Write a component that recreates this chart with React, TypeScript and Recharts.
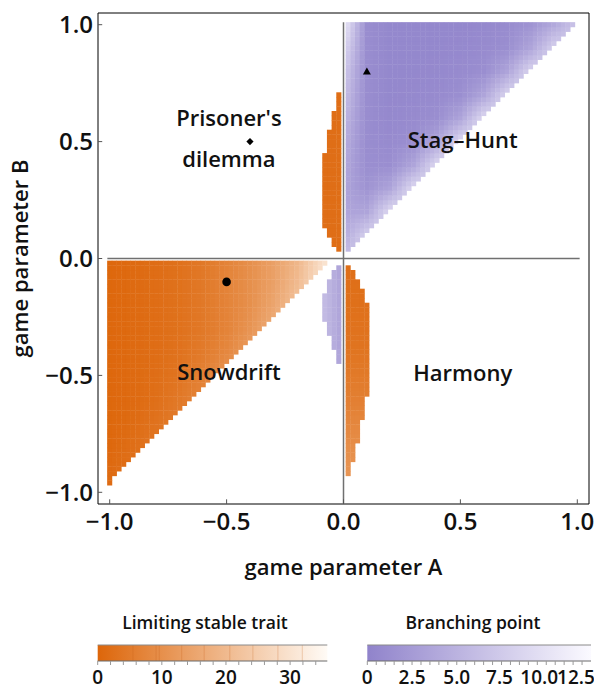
import { ScatterChart, Scatter, XAxis, YAxis, ReferenceLine, ReferenceArea, Label } from 'recharts'

const FONT = '"Open Sans", Lato, sans-serif'

// plot range, ticks, grid step of the cells
const RANGE: [number, number] = [-1.05, 1.05]
const axisTicks = [-1, -0.5, 0, 0.5, 1]
const STEP = 0.02

// Snowdrift block: left column (A) and both ends of its stepped edge [A, B]
const snowdriftLeft = -1.0
const snowdriftEdge = [[-1.0, -0.96], [-0.08, -0.02]]
// Stag-Hunt block
const stagLeft = 0.02
const stagEdge = [[0.02, 0.04], [0.98, 1.0]]

// thin strips near A = 0: column, lowest row, highest row
const pdStrip = [
  { a: -0.02, lo: 0.04, hi: 0.7 },
  { a: -0.04, lo: 0.06, hi: 0.62 },
  { a: -0.06, lo: 0.1, hi: 0.54 },
  { a: -0.08, lo: 0.14, hi: 0.44 },
]
const harmonyStrip = [
  { a: 0.02, lo: -0.92, hi: -0.04 },
  { a: 0.04, lo: -0.86, hi: -0.06 },
  { a: 0.06, lo: -0.78, hi: -0.1 },
  { a: 0.08, lo: -0.68, hi: -0.14 },
  { a: 0.1, lo: -0.58, hi: -0.2 },
]
const branchStrip = [
  { a: -0.02, lo: -0.44, hi: -0.04 },
  { a: -0.04, lo: -0.38, hi: -0.06 },
  { a: -0.06, lo: -0.32, hi: -0.1 },
  { a: -0.08, lo: -0.26, hi: -0.16 },
]

// limiting stable trait in the Snowdrift block, sampled every 0.1
const snowA = [-1, -0.9, -0.8, -0.7, -0.6, -0.5, -0.4, -0.3, -0.2, -0.1, 0]
const snowB = [0, -0.1, -0.2, -0.3, -0.4, -0.5, -0.6, -0.7, -0.8, -0.9, -1]
const snowTrait = [
  [0.5, 1, 1.8, 2.8, 4.5, 7, 10, 14, 19, 28, 36],
  [0.5, 1, 1.8, 2.8, 4.5, 7, 10, 14, 20, 29, 36],
  [0.5, 1, 1.8, 2.8, 4.5, 7, 10, 15, 22, 30, 36],
  [0.5, 1, 1.8, 2.8, 4.5, 7, 11, 17, 23, 30, 36],
  [0.5, 1, 1.8, 3, 5, 8, 13, 19, 23, 30, 36],
  [0.5, 1, 2, 3.5, 6.5, 11, 14, 19, 23, 30, 36],
  [0.5, 1, 2.2, 4.5, 7.5, 11, 14, 19, 23, 30, 36],
  [0.5, 1.3, 3, 5.5, 7.5, 11, 14, 19, 23, 30, 36],
  [0.5, 2, 4, 5.5, 7.5, 11, 14, 19, 23, 30, 36],
  [1, 2.5, 4, 5.5, 7.5, 11, 14, 19, 23, 30, 36],
  [1.5, 3, 4, 5.5, 7.5, 11, 14, 19, 23, 30, 36],
]

// branching point in the Stag-Hunt block, sampled every 0.1
const stagA = [0, 0.1, 0.2, 0.3, 0.4, 0.5, 0.6, 0.7, 0.8, 0.9, 1]
const stagB = [1, 0.9, 0.8, 0.7, 0.6, 0.5, 0.4, 0.3, 0.2, 0.1, 0]
const stagBranch = [
  [11, 1, 0.5, 0.5, 0.5, 0.5, 0.6, 0.9, 1.8, 4, 7],
  [9, 1, 0.5, 0.5, 0.5, 0.6, 0.8, 1.2, 3.5, 8, 8],
  [7.5, 1, 0.5, 0.5, 0.6, 0.8, 1.2, 3.5, 8.5, 8.5, 8.5],
  [6.5, 1, 0.5, 0.6, 0.8, 1.2, 3.5, 8.5, 8.5, 8.5, 8.5],
  [5.5, 1, 0.6, 0.8, 1.2, 3.5, 9, 9, 9, 9, 9],
  [4.5, 1, 0.8, 1.2, 3.5, 9, 9, 9, 9, 9, 9],
  [4, 1.2, 1.2, 3.5, 9, 9, 9, 9, 9, 9, 9],
  [3.5, 1.8, 3.5, 9, 9, 9, 9, 9, 9, 9, 9],
  [3.5, 3.5, 9, 9, 9, 9, 9, 9, 9, 9, 9],
  [4, 8, 9, 9, 9, 9, 9, 9, 9, 9, 9],
  [6, 8, 9, 9, 9, 9, 9, 9, 9, 9, 9],
]

const harmonyB = [0, -0.2, -0.4, -0.6, -0.8, -1]
const harmonyTrait = [2, 2.5, 3.5, 6, 9.5, 12]
const pdTrait = 2
const branchA = [-0.1, 0]
const branchValue = [6.5, 3]

// colour bars
const ORANGE_MAX = 35.8
const PURPLE_MAX = 12.5
const orangeEnds = [[221, 102, 10], [255, 251, 246]]
const purpleEnds = [[144, 131, 203], [251, 250, 255]]
const orangeTicks = [0, 10, 20, 30]
const orangeMinor = [0, 2, 4, 6, 8, 10, 12, 14, 16, 18, 20, 22, 24, 26, 28, 30, 32, 34]
const orangeSeams = [5.5, 9.1, 9.6, 13.1, 16.6, 20.6, 24.2, 28.1, 31.9]
const purpleTicks = [0, 2.5, 5, 7.5, 10, 12.5]
const purpleLabelShift = [0, 0, 0, -2, -7, -15]
const purpleMinor = [0, 0.5, 1, 1.5, 2, 2.5, 3, 3.5, 4, 4.5, 5, 5.5, 6, 6.5, 7, 7.5, 8, 8.5, 9, 9.5, 10, 10.5, 11, 11.5, 12]

const markers = [
  { a: 0.1, b: 0.8, kind: 'triangle' },
  { a: -0.4, b: 0.5, kind: 'diamond' },
  { a: -0.5, b: -0.1, kind: 'circle' },
]
const regionLabels = [
  { a: -0.49, b: 0.6, text: "Prisoner's" },
  { a: -0.49, b: 0.425, text: 'dilemma' },
  { a: 0.51, b: 0.507, text: 'Stag–Hunt' },
  { a: -0.49, b: -0.488, text: 'Snowdrift' },
  { a: 0.51, b: -0.49, text: 'Harmony' },
]

const PLOT = 491
const cellPx = (STEP * PLOT) / (RANGE[1] - RANGE[0]) + 0.4

const r2 = (v: number) => +v.toFixed(2)

function locate(axis: number[], v: number): [number, number] {
  for (let i = 0; i < axis.length - 1; i++) {
    const lo = Math.min(axis[i], axis[i + 1])
    const hi = Math.max(axis[i], axis[i + 1])
    if (v >= lo - 1e-9 && v <= hi + 1e-9) return [i, (v - axis[i]) / (axis[i + 1] - axis[i])]
  }
  return Math.abs(v - axis[0]) < Math.abs(v - axis[axis.length - 1]) ? [0, 0] : [axis.length - 2, 1]
}

function bilinear(as: number[], bs: number[], m: number[][], a: number, b: number) {
  const [i, s] = locate(as, a)
  const [j, t] = locate(bs, b)
  const top = m[j][i] * (1 - s) + m[j][i + 1] * s
  const bot = m[j + 1][i] * (1 - s) + m[j + 1][i + 1] * s
  return top * (1 - t) + bot * t
}

function colour(ends: number[][], v: number, max: number) {
  const t = Math.max(0, Math.min(1, v / max))
  const c = ends[0].map((c0, k) => Math.round(c0 + (ends[1][k] - c0) * t))
  return `rgb(${c[0]},${c[1]},${c[2]})`
}

function stairBlock(left: number, edge: number[][]) {
  const [[a0, b0], [a1, b1]] = edge
  const out: { a: number; b: number }[] = []
  for (let kb = Math.round(b0 / STEP); kb <= Math.round(b1 / STEP); kb++) {
    const b = r2(kb * STEP)
    const right = a0 + ((a1 - a0) * (b - b0)) / (b1 - b0)
    for (let ka = Math.round(left / STEP); ka * STEP <= right + 1e-6; ka++) out.push({ a: r2(ka * STEP), b })
  }
  return out
}

function stripCells(cols: { a: number; lo: number; hi: number }[]) {
  const out: { a: number; b: number }[] = []
  cols.forEach((c) => {
    for (let kb = Math.round(c.lo / STEP); kb <= Math.round(c.hi / STEP); kb++) out.push({ a: c.a, b: r2(kb * STEP) })
  })
  return out
}

const cells = [
  ...stairBlock(snowdriftLeft, snowdriftEdge).map((p) => ({
    ...p,
    fill: colour(orangeEnds, bilinear(snowA, snowB, snowTrait, p.a, p.b), ORANGE_MAX),
  })),
  ...stairBlock(stagLeft, stagEdge).map((p) => ({
    ...p,
    fill: colour(purpleEnds, bilinear(stagA, stagB, stagBranch, p.a, p.b), PURPLE_MAX),
  })),
  ...stripCells(pdStrip).map((p) => ({ ...p, fill: colour(orangeEnds, pdTrait, ORANGE_MAX) })),
  ...stripCells(harmonyStrip).map((p) => {
    const [j, t] = locate(harmonyB, p.b)
    const v = harmonyTrait[j] * (1 - t) + harmonyTrait[j + 1] * t
    return { ...p, fill: colour(orangeEnds, v, ORANGE_MAX) }
  }),
  ...stripCells(branchStrip).map((p) => {
    const [i, s] = locate(branchA, p.a)
    const v = branchValue[i] * (1 - s) + branchValue[i + 1] * s
    return { ...p, fill: colour(purpleEnds, v, PURPLE_MAX) }
  }),
]

const fmt = (v: number) => (v < 0 ? '−' + Math.abs(v).toFixed(1) : v.toFixed(1))

function CellShape(p: any) {
  return <rect x={p.cx - cellPx / 2} y={p.cy - cellPx / 2} width={cellPx} height={cellPx} fill={p.payload.fill} />
}

function MarkerShape(p: any) {
  const { cx, cy } = p
  const kind = p.payload.kind
  if (kind === 'triangle') return <polygon points={`${cx},${cy - 4} ${cx - 4},${cy + 3} ${cx + 4},${cy + 3}`} fill="#000" />
  if (kind === 'diamond') return <polygon points={`${cx},${cy - 3.6} ${cx + 3.6},${cy} ${cx},${cy + 3.6} ${cx - 3.6},${cy}`} fill="#000" />
  return <circle cx={cx} cy={cy} r={4.3} fill="#000" />
}

function TextShape(p: any) {
  return (
    <text x={p.cx} y={p.cy} dy="0.35em" textAnchor="middle" fontSize={22} fontWeight={600} fontFamily={FONT} fill="#111">
      {p.payload.text}
    </text>
  )
}

const tickStyle = { fontSize: 24, fontWeight: 600, fill: '#111', fontFamily: FONT }

function BarTick(p: any) {
  const shift = p.shifts ? p.shifts[p.index] || 0 : 0
  return (
    <text x={p.x + shift} y={p.y} dy="0.71em" textAnchor="middle" fontSize={19} fontWeight={600} fontFamily={FONT} fill="#111">
      {p.format(p.payload.value)}
    </text>
  )
}

function ColorBar(props: {
  id: string
  max: number
  ticks: number[]
  minor: number[]
  seams: number[]
  ends: number[][]
  width: number
  left: number
  right: number
  shifts?: number[]
  format: (v: number) => string
}) {
  const { id, max, ticks, minor, seams, ends, width, left, right, format, shifts } = props
  return (
    <ScatterChart width={width} height={92} margin={{ top: 47, right, bottom: 0, left }}>
      <defs>
        <linearGradient id={id} x1="0" x2="1" y1="0" y2="0">
          <stop offset="0" stopColor={`rgb(${ends[0].join(',')})`} />
          <stop offset="1" stopColor={`rgb(${ends[1].join(',')})`} />
        </linearGradient>
      </defs>
      <XAxis
        type="number"
        dataKey="v"
        domain={[0, max]}
        ticks={ticks}
        interval={0}
        axisLine={false}
        tickLine={false}
        tickSize={0}
        tickMargin={6}
        height={25}
        tick={<BarTick format={format} shifts={shifts} />}
        allowDataOverflow
      />
      <YAxis type="number" dataKey="y" domain={[-0.25, 1]} hide allowDataOverflow />
      <Scatter data={[{ v: 0, y: 0.5 }]} shape={() => <g />} isAnimationActive={false} />
      <ReferenceArea x1={0} x2={max} y1={0} y2={1} fill={`url(#${id})`} fillOpacity={1} stroke="none" />
      {seams.map((s) => (
        <ReferenceLine key={'s' + s} segment={[{ x: s, y: 0 }, { x: s, y: 1 }]} stroke="rgba(200,90,20,0.25)" strokeWidth={1} />
      ))}
      <ReferenceLine segment={[{ x: 0, y: 1 }, { x: max, y: 1 }]} stroke="#8a8a8a" strokeWidth={1} />
      <ReferenceLine segment={[{ x: 0, y: 0 }, { x: max, y: 0 }]} stroke="#6a6a6a" strokeWidth={1} />
      {minor.map((m) => (
        <ReferenceLine key={'m' + m} segment={[{ x: m, y: -0.25 }, { x: m, y: 0 }]} stroke="#999" strokeWidth={1} />
      ))}
    </ScatterChart>
  )
}

export default function App() {
  return (
    <div style={{ width: 586, fontFamily: FONT }}>
      <style>{'.recharts-surface{overflow:visible}'}</style>
      <ScatterChart width={586} height={590} margin={{ top: 5, right: 5, bottom: 0, left: 0 }}>
        <XAxis
          type="number"
          dataKey="a"
          domain={RANGE}
          ticks={axisTicks}
          interval={0}
          tickFormatter={fmt}
          axisLine={false}
          tickLine={false}
          tickSize={0}
          tickMargin={9}
          height={94}
          tick={tickStyle}
          allowDataOverflow
        >
          <Label
            content={(lp: any) => {
              const vb = lp.viewBox
              return (
                <text x={vb.x + vb.width / 2} y={vb.y + 63} dy="0.35em" textAnchor="middle" fontSize={22} fontWeight={600} fontFamily={FONT} fill="#111">
                  game parameter A
                </text>
              )
            }}
          />
        </XAxis>
        <YAxis
          type="number"
          dataKey="b"
          domain={RANGE}
          ticks={axisTicks}
          interval={0}
          tickFormatter={fmt}
          axisLine={false}
          tickLine={false}
          tickSize={0}
          tickMargin={5}
          width={90}
          tick={tickStyle}
          allowDataOverflow
        >
          <Label
            content={(lp: any) => {
              const vb = lp.viewBox
              const x = vb.x + 12
              const y = vb.y + vb.height / 2
              return (
                <text x={x} y={y} dy="0.35em" textAnchor="middle" transform={`rotate(-90 ${x} ${y})`} fontSize={22} fontWeight={600} fontFamily={FONT} fill="#111">
                  game parameter B
                </text>
              )
            }}
          />
        </YAxis>
        <Scatter data={cells} shape={CellShape} isAnimationActive={false} />
        <ReferenceLine segment={[{ x: 0, y: RANGE[0] }, { x: 0, y: 1.01 }]} stroke="#707070" strokeWidth={1.5} />
        <ReferenceLine segment={[{ x: -1.01, y: 0 }, { x: 1.01, y: 0 }]} stroke="#707070" strokeWidth={1.5} />
        <ReferenceArea x1={RANGE[0]} x2={RANGE[1]} y1={RANGE[0]} y2={RANGE[1]} fill="none" stroke="#000" strokeWidth={1} />
        {axisTicks.map((t) => (
          <ReferenceLine key={'bx' + t} segment={[{ x: t, y: RANGE[0] }, { x: t, y: RANGE[0] + 0.02 }]} stroke="#555" />
        ))}
        {axisTicks.map((t) => (
          <ReferenceLine key={'ly' + t} segment={[{ x: RANGE[0], y: t }, { x: RANGE[0] + 0.018, y: t }]} stroke="#555" />
        ))}
        <Scatter data={markers} shape={MarkerShape} isAnimationActive={false} />
        <Scatter data={regionLabels} shape={TextShape} isAnimationActive={false} />
      </ScatterChart>
      <div style={{ position: 'relative', height: 92 }}>
        <div style={{ position: 'absolute', left: 0, width: 394, top: 12, textAlign: 'center', fontSize: 17.5, fontWeight: 600, color: '#111' }}>
          Limiting stable trait
        </div>
        <div style={{ position: 'absolute', left: 365, width: 200, top: 12, textAlign: 'center', fontSize: 17.5, fontWeight: 600, color: '#111' }}>
          Branching point
        </div>
        <div style={{ position: 'absolute', left: 0, top: 0 }}>
          <ColorBar id="orangeGrad" max={ORANGE_MAX} ticks={orangeTicks} minor={orangeMinor} seams={orangeSeams} ends={orangeEnds} width={340} left={89.7} right={20.7} format={(v) => String(v)} />
        </div>
        <div style={{ position: 'absolute', left: 340, top: 0 }}>
          <ColorBar id="purpleGrad" max={PURPLE_MAX} ticks={purpleTicks} minor={purpleMinor} seams={[]} ends={purpleEnds} width={254} left={19.3} right={11} shifts={purpleLabelShift} format={(v) => (v === 0 ? '0' : v.toFixed(1))} />
        </div>
      </div>
    </div>
  )
}
